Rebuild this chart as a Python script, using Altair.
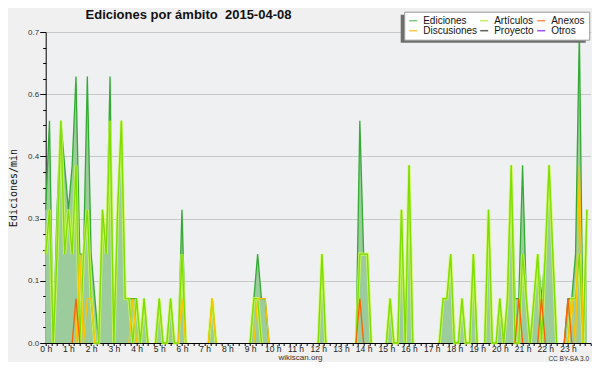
import altair as alt
import pandas as pd

title_text = "Ediciones por ámbito\u00a0 2015-04-08"
# legend entries are laid out column by column (2 rows x 3 columns)
series_names = ["Ediciones", "Discusiones", "Artículos", "Proyecto", "Anexos", "Otros"]
legend_colors = ["#80c880", "#ffc844", "#c8ee55", "#606060", "#ff8855", "#9a4ff0"]

# one value every 10 minutes, 6 values per hour (edits/min)
ediciones = [
    0.3, 0.5, 0.0, 0.3, 0.5, 0.4,   # 0 h
    0.3, 0.4, 0.6, 0.2, 0.2, 0.6,   # 1 h
    0.2, 0.1, 0.0, 0.3, 0.2, 0.6,   # 2 h
    0.0, 0.3, 0.5, 0.1, 0.1, 0.1,   # 3 h
    0.1, 0.0, 0.1, 0.0, 0.0, 0.0,   # 4 h
    0.1, 0.0, 0.0, 0.1, 0.0, 0.0,   # 5 h
    0.3, 0.0, 0.0, 0.0, 0.0, 0.0,   # 6 h
    0.0, 0.0, 0.1, 0.0, 0.0, 0.0,   # 7 h
    0.0, 0.0, 0.0, 0.0, 0.0, 0.0,   # 8 h
    0.0, 0.1, 0.2, 0.1, 0.1, 0.0,   # 9 h
    0.0, 0.0, 0.0, 0.0, 0.0, 0.0,   # 10 h
    0.0, 0.0, 0.0, 0.0, 0.0, 0.0,   # 11 h
    0.0, 0.2, 0.0, 0.0, 0.0, 0.0,   # 12 h
    0.0, 0.0, 0.0, 0.0, 0.0, 0.5,   # 13 h
    0.2, 0.2, 0.0, 0.0, 0.0, 0.0,   # 14 h
    0.0, 0.1, 0.0, 0.0, 0.3, 0.0,   # 15 h
    0.4, 0.0, 0.0, 0.0, 0.0, 0.0,   # 16 h
    0.0, 0.0, 0.0, 0.1, 0.1, 0.2,   # 17 h
    0.0, 0.0, 0.1, 0.0, 0.0, 0.2,   # 18 h
    0.0, 0.0, 0.0, 0.3, 0.0, 0.0,   # 19 h
    0.1, 0.0, 0.1, 0.4, 0.1, 0.1,   # 20 h
    0.4, 0.1, 0.0, 0.1, 0.2, 0.1,   # 21 h
    0.2, 0.4, 0.2, 0.0, 0.0, 0.0,   # 22 h
    0.1, 0.1, 0.2, 0.7, 0.0, 0.3,   # 23 h
]
articulos = [
    0.2, 0.3, 0.0, 0.2, 0.5, 0.2,
    0.3, 0.2, 0.4, 0.0, 0.2, 0.3,
    0.1, 0.0, 0.0, 0.3, 0.2, 0.5,
    0.0, 0.3, 0.5, 0.1, 0.1, 0.0,
    0.1, 0.0, 0.1, 0.0, 0.0, 0.0,
    0.1, 0.0, 0.0, 0.1, 0.0, 0.0,
    0.2, 0.0, 0.0, 0.0, 0.0, 0.0,
    0.0, 0.0, 0.1, 0.0, 0.0, 0.0,
    0.0, 0.0, 0.0, 0.0, 0.0, 0.0,
    0.0, 0.1, 0.1, 0.0, 0.0, 0.0,
    0.0, 0.0, 0.0, 0.0, 0.0, 0.0,
    0.0, 0.0, 0.0, 0.0, 0.0, 0.0,
    0.0, 0.2, 0.0, 0.0, 0.0, 0.0,
    0.0, 0.0, 0.0, 0.0, 0.0, 0.2,
    0.2, 0.2, 0.0, 0.0, 0.0, 0.0,
    0.0, 0.1, 0.0, 0.0, 0.3, 0.0,
    0.4, 0.0, 0.0, 0.0, 0.0, 0.0,
    0.0, 0.0, 0.0, 0.1, 0.1, 0.2,
    0.0, 0.0, 0.1, 0.0, 0.0, 0.2,
    0.0, 0.0, 0.0, 0.3, 0.0, 0.0,
    0.1, 0.0, 0.1, 0.4, 0.0, 0.0,
    0.2, 0.1, 0.0, 0.1, 0.2, 0.0,
    0.2, 0.4, 0.2, 0.0, 0.0, 0.0,
    0.0, 0.1, 0.1, 0.2, 0.0, 0.3,
]
discusiones = [
    0.0, 0.0, 0.0, 0.0, 0.0, 0.0,
    0.0, 0.0, 0.0, 0.2, 0.0, 0.1,
    0.1, 0.0, 0.0, 0.0, 0.0, 0.0,
    0.0, 0.0, 0.0, 0.0, 0.0, 0.1,
    0.0, 0.0, 0.0, 0.0, 0.0, 0.0,
    0.0, 0.0, 0.0, 0.0, 0.0, 0.0,
    0.1, 0.0, 0.0, 0.0, 0.0, 0.0,
    0.0, 0.0, 0.1, 0.0, 0.0, 0.0,
    0.0, 0.0, 0.0, 0.0, 0.0, 0.0,
    0.0, 0.0, 0.1, 0.1, 0.1, 0.0,
    0.0, 0.0, 0.0, 0.0, 0.0, 0.0,
    0.0, 0.0, 0.0, 0.0, 0.0, 0.0,
    0.0, 0.0, 0.0, 0.0, 0.0, 0.0,
    0.0, 0.0, 0.0, 0.0, 0.0, 0.0,
    0.0, 0.0, 0.0, 0.0, 0.0, 0.0,
    0.0, 0.0, 0.0, 0.0, 0.0, 0.0,
    0.0, 0.0, 0.0, 0.0, 0.0, 0.0,
    0.0, 0.0, 0.0, 0.0, 0.0, 0.0,
    0.0, 0.0, 0.0, 0.0, 0.0, 0.0,
    0.0, 0.0, 0.0, 0.0, 0.0, 0.0,
    0.0, 0.0, 0.0, 0.0, 0.0, 0.0,
    0.0, 0.0, 0.0, 0.0, 0.0, 0.0,
    0.0, 0.0, 0.0, 0.0, 0.0, 0.0,
    0.0, 0.1, 0.0, 0.4, 0.0, 0.0,
]
anexos = [
    0.0, 0.0, 0.0, 0.0, 0.0, 0.0,
    0.0, 0.0, 0.1, 0.0, 0.0, 0.0,
    0.0, 0.0, 0.0, 0.0, 0.0, 0.0,
    0.0, 0.0, 0.0, 0.0, 0.0, 0.0,
    0.0, 0.0, 0.0, 0.0, 0.0, 0.0,
    0.0, 0.0, 0.0, 0.0, 0.0, 0.0,
    0.0, 0.0, 0.0, 0.0, 0.0, 0.0,
    0.0, 0.0, 0.0, 0.0, 0.0, 0.0,
    0.0, 0.0, 0.0, 0.0, 0.0, 0.0,
    0.0, 0.0, 0.0, 0.0, 0.0, 0.0,
    0.0, 0.0, 0.0, 0.0, 0.0, 0.0,
    0.0, 0.0, 0.0, 0.0, 0.0, 0.0,
    0.0, 0.0, 0.0, 0.0, 0.0, 0.0,
    0.0, 0.0, 0.0, 0.0, 0.0, 0.1,
    0.0, 0.0, 0.0, 0.0, 0.0, 0.0,
    0.0, 0.0, 0.0, 0.0, 0.0, 0.0,
    0.0, 0.0, 0.0, 0.0, 0.0, 0.0,
    0.0, 0.0, 0.0, 0.0, 0.0, 0.0,
    0.0, 0.0, 0.0, 0.0, 0.0, 0.0,
    0.0, 0.0, 0.0, 0.0, 0.0, 0.0,
    0.0, 0.0, 0.0, 0.0, 0.0, 0.1,
    0.0, 0.0, 0.0, 0.0, 0.0, 0.1,
    0.0, 0.0, 0.0, 0.0, 0.0, 0.0,
    0.1, 0.0, 0.0, 0.0, 0.0, 0.0,
]

hours = [i * 10 / 60 for i in range(len(ediciones))]
df = pd.DataFrame({"t": hours, "total": ediciones})


def runs(values):
    """Keep only the points that belong to a visible stretch of the line,
    split into separate segments so that long zero stretches are not drawn."""
    n = len(values)
    rows, seg, prev = [], 0, False
    for i, v in enumerate(values):
        left = values[i - 1] if i > 0 else 0
        right = values[i + 1] if i < n - 1 else 0
        vis = v > 0 or left > 0 or right > 0
        if vis:
            if not prev:
                seg += 1
            rows.append({"t": hours[i], "v": v, "seg": seg})
        prev = vis
    return pd.DataFrame(rows)


x_ticks = [k * 0.25 for k in range(97)]
y_ticks = [round(k * 0.035, 4) for k in range(21)]
major = "abs(datum.value/0.14 - round(datum.value/0.14)) < 0.01"

xs = alt.Scale(domain=[0, 24], nice=False, zero=False)
ys = alt.Scale(domain=[0, 0.7], nice=False, zero=True)

x_axis = alt.Axis(
    values=x_ticks,
    labelExpr="datum.value % 1 == 0 && datum.value < 24 ? datum.value + ' h' : ''",
    tickSize=2.5, labelPadding=-1, labelFontSize=8.5, labelColor="#222",
    labelOverlap=False, labelFlush=False, grid=False,
)
y_axis = alt.Axis(
    values=y_ticks,
    labelExpr=f"{major} ? format(datum.value, '.1f') : ''",
    grid=True, gridColor="#c8c8c8",
    gridOpacity={"condition": {"test": major, "value": 1}, "value": 0},
    tickSize={"condition": {"test": major, "value": 6}, "value": 3},
    labelFontSize=8, labelColor="#333", labelPadding=1,
    labelOverlap=False, labelFlush=False,
)


def X():
    return alt.X("t:Q", scale=xs, axis=x_axis, title=None)


def Y(f):
    return alt.Y(f"{f}:Q", scale=ys, axis=y_axis, title=None)


def line(values, **kw):
    return alt.Chart(runs(values)).mark_line(**kw).encode(
        x=X(), y=Y("v"), detail="seg:N")


area = alt.Chart(df).mark_area(color="#9ccc9c", opacity=1).encode(x=X(), y=Y("total"))
tot_line = line(ediciones, color="#33aa33", strokeWidth=1.3)
art_glow = line(articulos, color="#d4ff55", strokeWidth=3.2, opacity=0.75)
art_line = line(articulos, color="#7fdd00", strokeWidth=1.3)
disc_line = line(discusiones, color="#ffc400", strokeWidth=1.3)
anex_line = line(anexos, color="#ff6000", strokeWidth=1.3)

leg_df = pd.DataFrame({"serie": series_names, "t": [0] * 6, "v": [0] * 6})
legend_layer = alt.Chart(leg_df).mark_line(strokeWidth=1.5).encode(
    x=X(), y=Y("v"),
    color=alt.Color(
        "serie:N",
        scale=alt.Scale(domain=series_names, range=legend_colors),
        legend=alt.Legend(
            title=None, orient="none", legendX=358.5, legendY=-20.3, columns=3,
            fillColor="white", strokeColor="#999999", padding=4,
            symbolType="stroke", symbolSize=64, symbolStrokeWidth=1.5,
            labelFontSize=10, labelFont="Liberation Sans", labelColor="#111",
            labelOffset=5, columnPadding=0, rowPadding=0,
        ),
    ),
)

one = alt.Data(values=[{"k": 1}])


def txt(text, x, y, **kw):
    return alt.Chart(one).mark_text(text=text, **kw).encode(x=alt.value(x), y=alt.value(y))


shadow = alt.Chart(one).mark_rect(color="#6e6e6e").encode(
    x=alt.value(355.0), x2=alt.value(540.0), y=alt.value(-17.3), y2=alt.value(10.7))

title = txt(title_text, 142.8, -13.3, font="Liberation Sans", fontSize=13,
            fontWeight="bold", color="#111", align="center", baseline="alphabetic")
ytitle = txt("Ediciones/min", -32.0, 156, font="DejaVu Sans Mono", fontSize=10,
             color="#111", angle=270, align="center", baseline="middle")
site = txt("wikiscan.org", 254.8, 326.2, font="Liberation Sans", fontSize=8,
           color="#333", align="center", baseline="middle")
lic = txt("CC BY-SA 3.0", 543.3, 326.5, font="Liberation Sans", fontSize=6.5,
          color="#333", align="right", baseline="middle")

chart = alt.layer(
    area, tot_line, art_glow, art_line, disc_line, anex_line, legend_layer,
    shadow, title, ytitle, site, lic,
).properties(
    width=545, height=311, background="#f0f0f0",
    padding={"left": 37.7, "top": 24, "right": 1.3, "bottom": 19},
    autosize=alt.AutoSizeParams(type="none"),
).configure_view(
    fill="#eef0f2", stroke=None,
).configure_axis(
    domainColor="black", tickColor="black", labelFont="Liberation Sans",
)

chart.save("out.html", embed_options={"renderer": "svg", "actions": False})
